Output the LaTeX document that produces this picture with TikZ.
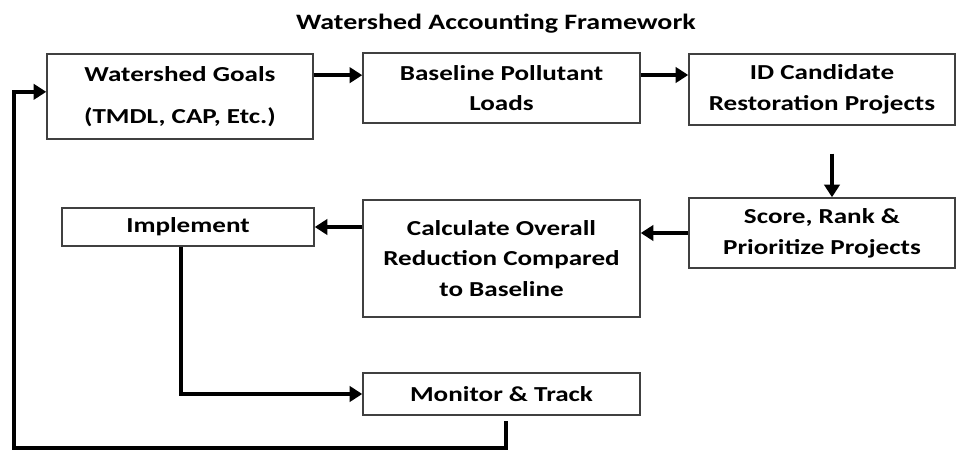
\documentclass[tikz,border=0pt]{standalone}
\usepackage{fontspec}
\setmainfont{Carlito}[FakeStretch=1.27]
\usetikzlibrary{arrows.meta}

\begin{document}
\begin{tikzpicture}[
  x=0.75pt, y=-0.75pt,
  stepbox/.style={draw=black!75, line width=1.1pt, fill=white, inner sep=0pt, align=center, font=\fontsize{16}{23}\selectfont\bfseries},
  arr/.style={draw=black, line width=2.8pt, -{Triangle[length=9.5pt,width=11.5pt]}}
]
\useasboundingbox (0,0) rectangle (957,453);

\node[font=\fontsize{16.5}{19}\selectfont\bfseries] (title) at (496,24) {Watershed Accounting Framework};

\node[stepbox, minimum width=199.5pt, minimum height=63.75pt] (goals) at (180,96.5) {Watershed Goals\\[8pt](TMDL, CAP, Etc.)};
\node[stepbox, minimum width=207.75pt, minimum height=52.5pt] (loads) at (501.5,88) {Baseline Pollutant\\Loads};
\node[stepbox, minimum width=199.5pt, minimum height=53.25pt] (idproj) at (822,89.5) {ID Candidate\\Restoration Projects};
\node[stepbox, minimum width=199.5pt, minimum height=52.5pt] (score) at (822,233) {Score, Rank \&\\Prioritize Projects};
\node[stepbox, minimum width=207.75pt, minimum height=87.75pt] (calc) at (501.5,258.5) {Calculate Overall\\Reduction Compared\\to Baseline};
\node[stepbox, minimum width=189pt, minimum height=28.5pt] (impl) at (188,227) {Implement};
\node[stepbox, minimum width=207.75pt, minimum height=31.5pt] (monitor) at (501.5,394) {Monitor \& Track};

\coordinate (fbcorner) at (14,448);

\draw[arr] ([yshift=16pt]goals.east) -- ([yshift=16pt]goals.east -| loads.west);
\draw[arr] ([yshift=9.75pt]loads.east) -- ([yshift=9.75pt]loads.east -| idproj.west);
\draw[arr, shorten <=21pt] ([xshift=7.5pt]idproj.south) -- ([xshift=7.5pt]score.north);
\draw[arr] (score.west) -- (score.west -| calc.east);
\draw[arr] (calc.west |- impl.east) -- (impl.east);
\draw[arr] ([xshift=-5pt]impl.south) |- (monitor.west);
\draw[arr, shorten <=4pt] ([xshift=3.5pt]monitor.south) |- (fbcorner) |- ([yshift=3.5pt]goals.west);
\end{tikzpicture}
\end{document}
